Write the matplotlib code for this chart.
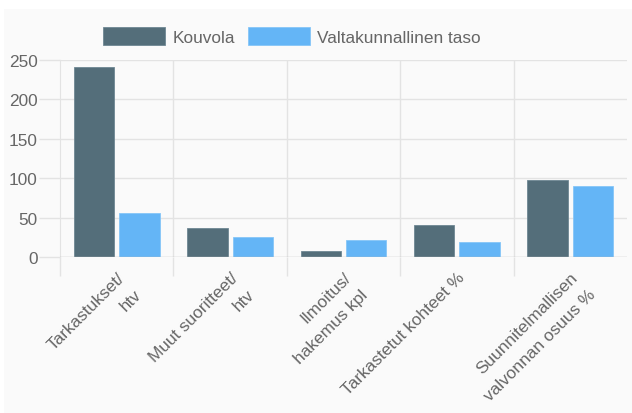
import matplotlib
matplotlib.use("Agg")
import matplotlib.pyplot as plt
from matplotlib.patches import Rectangle
import numpy as np

categories = ["Tarkastukset/\nhtv", "Muut suoritteet/\nhtv", "Ilmoitus/\nhakemus kpl",
              "Tarkastetut kohteet %", "Suunnitelmallisen\nvalvonnan osuus %"]
kouvola = [241, 37, 8, 41, 98]
valtakunnallinen = [56, 26, 22, 19, 90]
series_names = ["Kouvola", "Valtakunnallinen taso"]
yticks = [0, 50, 100, 150, 200, 250]

plt.rcParams['font.family'] = ['Liberation Sans', 'DejaVu Sans']
FS = 12.4
TXT = '#666666'
GRID = '#e3e3e3'
ZERO = '#bdbdbd'
C1 = '#546E7A'
C2 = '#64B5F6'

W, H = 632, 414
fig = plt.figure(figsize=(W / 100, H / 100), dpi=100)
fig.patch.set_facecolor('white')
fig.patches.append(Rectangle((4 / W, 0), 1 - 4 / W, 1 - 9.5 / H, transform=fig.transFigure,
                             facecolor='#fafafa', edgecolor='none', zorder=-10))

left, right, bottom, top = 60, 627, 258, 61
ax = fig.add_axes([left / W, 1 - bottom / H, (right - left) / W, (bottom - top) / H])
ax.set_facecolor('none')

x = np.arange(len(categories))
bw = 0.355
ax.bar(x - 0.2, kouvola, bw, color=C1, edgecolor='#6f8793', linewidth=0.6, zorder=3, label=series_names[0])
ax.bar(x + 0.2, valtakunnallinen, bw, color=C2, edgecolor='#86c6f8', linewidth=0.6, zorder=3, label=series_names[1])

ax.set_xlim(-0.5, len(categories) - 0.5)
ax.set_ylim(0, 250)
ax.set_yticks(yticks)
ax.set_yticklabels([str(v) for v in yticks])
ax.tick_params(axis='y', length=15, width=1, color=GRID, labelcolor=TXT, labelsize=FS, pad=1)
for v in yticks[1:]:
    ax.axhline(v, color=GRID, lw=1, zorder=1)
ax.axhline(0, color=ZERO, lw=1, zorder=4)

ax.set_xticks(x)
ax.set_xticklabels(categories, rotation=45, ha='right', va='top', rotation_mode='anchor',
                   multialignment='right', linespacing=1.75)
ax.set_xticks(np.arange(-0.5, len(categories) - 0.5, 1.0), minor=True)
ax.tick_params(axis='x', which='major', length=0, labelcolor=TXT, labelsize=FS, pad=9)
ax.tick_params(axis='x', which='minor', length=14, width=1, color=GRID)
for b in np.arange(0.5, len(categories) - 0.5, 1.0):
    ax.axvline(b, color=GRID, lw=1, zorder=1)

for s in ['top', 'right', 'bottom']:
    ax.spines[s].set_visible(False)
ax.spines['left'].set_color(GRID)

h, l = ax.get_legend_handles_labels()
leg = fig.legend(h, l, loc='center left', bbox_to_anchor=(103 / W, 1 - 37 / H), ncol=2,
                 frameon=False, fontsize=FS, handlelength=3.6, handleheight=1.3,
                 handletextpad=0.42, columnspacing=0.75, borderaxespad=0, borderpad=0)
for t in leg.get_texts():
    t.set_color(TXT)

fig.savefig('out.png', dpi=100)
